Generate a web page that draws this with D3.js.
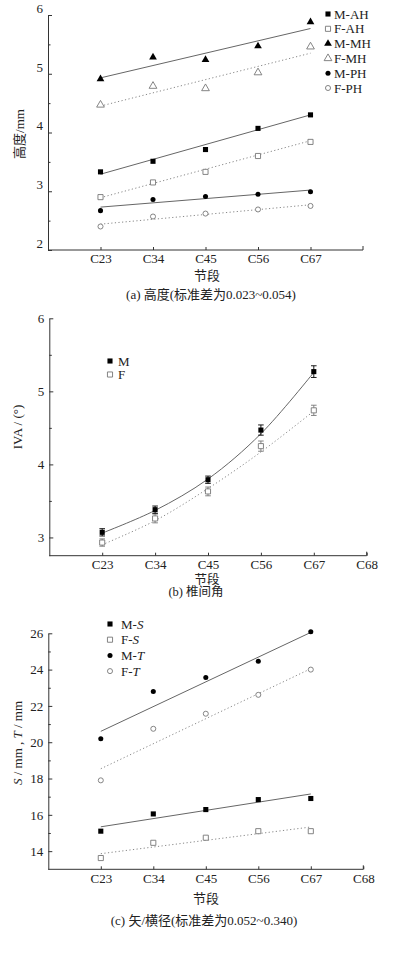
<!DOCTYPE html>
<html>
<head>
<meta charset="utf-8">
<script src="https://cdn.jsdelivr.net/npm/d3@7"></script>
<style>
  body { margin: 0; background: #fff; }
  svg { display: block; }
  text { font-family: "Liberation Serif", "Times New Roman", "Noto Sans CJK SC", serif; fill: #222; }
</style>
</head>
<body>
<svg id="chart" width="398" height="954"></svg>
<script>
// segments (x categories)
var segments = ["C23", "C34", "C45", "C56", "C67"];
var extraSegment = "C68";

// (a) heights, mm
var mAH = [3.33, 3.51, 3.71, 4.07, 4.30];
var fAH = [2.90, 3.15, 3.33, 3.60, 3.84];
var mMH = [4.91, 5.28, 5.24, 5.47, 5.88];
var fMH = [4.47, 4.79, 4.75, 5.02, 5.46];
var mPH = [2.67, 2.86, 2.91, 2.95, 2.99];
var fPH = [2.40, 2.57, 2.62, 2.69, 2.75];
// (a) trend lines, value at C23 and C67
var fitMAH = [3.29, 4.30];
var fitFAH = [2.89, 3.86];
var fitMMH = [4.93, 5.77];
var fitFMH = [4.45, 5.35];
var fitMPH = [2.73, 3.02];
var fitFPH = [2.44, 2.77];
var ticksA = [2, 3, 4, 5, 6];

// (b) intervertebral angle
var mIVA = [3.07, 3.38, 3.79, 4.47, 5.27];
var fIVA = [2.93, 3.26, 3.63, 4.25, 4.74];
var mIVAerr = [0.05, 0.05, 0.05, 0.07, 0.08];
var fIVAerr = [0.05, 0.06, 0.06, 0.07, 0.07];
var fitMIVA = [3.06, 3.37, 3.80, 4.42, 5.26];
var fitFIVA = [2.90, 3.23, 3.67, 4.17, 4.73];
var ticksB = [3, 4, 5, 6];

// (c) sagittal / transverse diameters
var mS = [15.10, 16.05, 16.29, 16.84, 16.90];
var fS = [13.62, 14.46, 14.74, 15.10, 15.10];
var mT = [20.19, 22.79, 23.56, 24.46, 26.09];
var fT = [17.90, 20.74, 21.57, 22.61, 24.00];
var fitMS = [15.34, 17.15];
var fitFS = [13.86, 15.33];
var fitMT = [20.60, 26.05];
var fitFT = [18.54, 24.05];
var ticksC = [14, 16, 18, 20, 22, 24, 26];

var svg = d3.select("#chart");
var axisColor = "#333";
var solidColor = "#666";
var dotColor = "#888";
var hollowColor = "#777";

var symSquare = d3.symbol().type(d3.symbolSquare).size(26);
var symCircle = d3.symbol().type(d3.symbolCircle).size(20);
var symTri = d3.symbol().type(d3.symbolTriangle).size(26);

// draw axes for a panel
var drawAxes = function(g, x, y, yTicks, yMinor, xTicks, labelDy) {
    var xAxis = d3.axisBottom(x)
        .tickValues(xTicks)
        .tickFormat(function(d){ return d <= segments.length ? segments[d - 1] : extraSegment; })
        .tickSizeInner(-3).tickSizeOuter(-4).tickPadding(4);
    var xg = g.append("g")
        .attr("transform", "translate(0," + y.range()[0] + ")")
        .call(xAxis);

    var yAxis = d3.axisLeft(y).tickValues(yTicks)
        .tickFormat(d3.format("d"))
        .tickSizeInner(-4).tickSizeOuter(0).tickPadding(5);
    var yg = g.append("g")
        .attr("transform", "translate(" + x.range()[0] + ",0)")
        .call(yAxis);
    yg.selectAll("text").attr("dy", labelDy);

    var minor = g.append("g")
        .attr("transform", "translate(" + x.range()[0] + ",0)")
        .call(d3.axisLeft(y).tickValues(yMinor).tickSize(-2.5).tickFormat(""));
    minor.select(".domain").remove();

    [xg, yg, minor].forEach(function(a){
        a.selectAll("path, line").attr("stroke", axisColor);
        a.selectAll("text").style("font-size", "13px").attr("fill", "#222")
            .style("font-family", "'Liberation Serif', 'Times New Roman', serif");
    });
    // right-end tick of x axis
    xg.select(".domain").attr("d", "M" + x.range()[0] + ",0H" + x.range()[1] + "V-4");
};

var drawFit = function(g, x, y, vals, dotted) {
    g.append("line")
        .attr("x1", x(1)).attr("y1", y(vals[0]))
        .attr("x2", x(5)).attr("y2", y(vals[1]))
        .attr("stroke", dotted ? dotColor : solidColor)
        .attr("stroke-width", 1)
        .attr("stroke-dasharray", dotted ? "1.2,2.4" : null);
};

var drawPoints = function(g, x, y, vals, sym, filled) {
    g.selectAll(null).data(vals).enter().append("path")
        .attr("d", sym)
        .attr("transform", function(d, i){ return "translate(" + x(i + 1) + "," + y(d) + ")"; })
        .attr("fill", filled ? "#000" : "#fff")
        .attr("stroke", filled ? "#000" : hollowColor)
        .attr("stroke-width", filled ? 0 : 0.9);
};

var drawLegend = function(g, items, mx, tx, y0, step) {
    items.forEach(function(it, i){
        var yy = y0 + i * step;
        g.append("path").attr("d", it.sym)
            .attr("transform", "translate(" + mx + "," + yy + ")")
            .attr("fill", it.filled ? "#000" : "#fff")
            .attr("stroke", it.filled ? "#000" : hollowColor)
            .attr("stroke-width", it.filled ? 0 : 0.9);
        var t = g.append("text").attr("x", tx).attr("y", yy).attr("dy", "0.35em")
            .style("font-size", "13px");
        it.parts.forEach(function(p){
            t.append("tspan").text(p[0]).style("font-style", p[1] ? "italic" : "normal");
        });
    });
};

var addText = function(x, y, txt, rotate, size) {
    var t = svg.append("text")
        .attr("text-anchor", "middle")
        .attr("dy", "0.35em")
        .style("font-size", (size || 13) + "px");
    if (rotate) t.attr("transform", "translate(" + x + "," + y + ") rotate(-90)");
    else t.attr("x", x).attr("y", y);
    if (typeof txt === "string") t.text(txt);
    else txt.forEach(function(p){
        t.append("tspan").text(p[0]).style("font-style", p[1] ? "italic" : "normal");
    });
    return t;
};

// ---------- panel (a) ----------
var gA = svg.append("g");
var xA = d3.scaleLinear().domain([0, 6]).range([48, 363]);
var yA = d3.scaleLinear().domain([2, 6]).range([250, 15]);
drawAxes(gA, xA, yA, ticksA, [2.5, 3.5, 4.5, 5.5], [1, 2, 3, 4, 5], "-0.2em");

drawFit(gA, xA, yA, fitMMH, false);
drawFit(gA, xA, yA, fitFMH, true);
drawFit(gA, xA, yA, fitMAH, false);
drawFit(gA, xA, yA, fitFAH, true);
drawFit(gA, xA, yA, fitMPH, false);
drawFit(gA, xA, yA, fitFPH, true);
drawPoints(gA, xA, yA, mMH, symTri, true);
drawPoints(gA, xA, yA, fMH, symTri, false);
drawPoints(gA, xA, yA, mAH, symSquare, true);
drawPoints(gA, xA, yA, fAH, symSquare, false);
drawPoints(gA, xA, yA, mPH, symCircle, true);
drawPoints(gA, xA, yA, fPH, symCircle, false);

drawLegend(gA, [
    {sym: symSquare, filled: true, parts: [["M-AH"]]},
    {sym: symSquare, filled: false, parts: [["F-AH"]]},
    {sym: symTri, filled: true, parts: [["M-MH"]]},
    {sym: symTri, filled: false, parts: [["F-MH"]]},
    {sym: symCircle, filled: true, parts: [["M-PH"]]},
    {sym: symCircle, filled: false, parts: [["F-PH"]]}
], 328, 334, 14, 14.8);

addText(19, 134, "高度/mm", true);
addText(207, 275, "节段");
addText(211, 294, "(a) 高度(标准差为0.023~0.054)");

// ---------- panel (b) ----------
var gB = svg.append("g");
var xB = d3.scaleLinear().domain([0, 6]).range([49.3, 366.7]);
var yB = d3.scaleLinear().domain([2.75, 6]).range([555.7, 318.3]);
drawAxes(gB, xB, yB, ticksB, [3.5, 4.5, 5.5], [1, 2, 3, 4, 5, 6], "0.32em");

var curve = d3.line()
    .x(function(d, i){ return xB(i + 1); })
    .y(function(d){ return yB(d); })
    .curve(d3.curveCatmullRom);
gB.append("path").attr("d", curve(fitMIVA))
    .attr("fill", "none").attr("stroke", solidColor).attr("stroke-width", 1);
gB.append("path").attr("d", curve(fitFIVA))
    .attr("fill", "none").attr("stroke", dotColor).attr("stroke-width", 1)
    .attr("stroke-dasharray", "1.2,2.4");

var drawErr = function(g, vals, errs, color) {
    vals.forEach(function(v, i){
        var cx = xB(i + 1);
        var top = yB(v + errs[i]), bot = yB(v - errs[i]);
        g.append("path")
            .attr("d", "M" + (cx - 2.8) + "," + top + "H" + (cx + 2.8) +
                  "M" + cx + "," + top + "V" + bot +
                  "M" + (cx - 2.8) + "," + bot + "H" + (cx + 2.8))
            .attr("stroke", color).attr("stroke-width", 0.9).attr("fill", "none");
    });
};
drawErr(gB, fIVA, fIVAerr, hollowColor);
drawErr(gB, mIVA, mIVAerr, "#000");
drawPoints(gB, xB, yB, fIVA, symSquare, false);
drawPoints(gB, xB, yB, mIVA, symSquare, true);

drawLegend(gB, [
    {sym: symSquare, filled: true, parts: [["M"]]},
    {sym: symSquare, filled: false, parts: [["F"]]}
], 110, 118, 361, 13.5);

addText(17, 427, "IVA / (°)", true);
addText(207, 579.5, "节段", false, 12.5);
addText(196, 592, "(b) 椎间角", false, 12.5);

// ---------- panel (c) ----------
var gC = svg.append("g");
var xC = d3.scaleLinear().domain([0, 6]).range([48.3, 363.3]);
var yC = d3.scaleLinear().domain([13, 26]).range([869.3, 633.3]);
drawAxes(gC, xC, yC, ticksC, [15, 17, 19, 21, 23, 25], [1, 2, 3, 4, 5, 6], "0.32em");

drawFit(gC, xC, yC, fitMT, false);
drawFit(gC, xC, yC, fitFT, true);
drawFit(gC, xC, yC, fitMS, false);
drawFit(gC, xC, yC, fitFS, true);
drawPoints(gC, xC, yC, mT, symCircle, true);
drawPoints(gC, xC, yC, fT, symCircle, false);
drawPoints(gC, xC, yC, mS, symSquare, true);
drawPoints(gC, xC, yC, fS, symSquare, false);

drawLegend(gC, [
    {sym: symSquare, filled: true, parts: [["M-"], ["S", true]]},
    {sym: symSquare, filled: false, parts: [["F-"], ["S", true]]},
    {sym: symCircle, filled: true, parts: [["M-"], ["T", true]]},
    {sym: symCircle, filled: false, parts: [["F-"], ["T", true]]}
], 110, 121, 624, 15.7);

addText(17, 743, [["S", true], [" / mm , "], ["T", true], [" / mm"]], true);
addText(206, 898, "节段");
addText(204, 920, "(c) 矢/横径(标准差为0.052~0.340)");
</script>
</body>
</html>
